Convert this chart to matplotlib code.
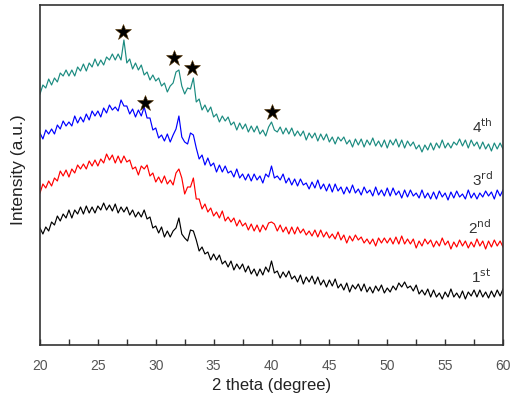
import numpy as np
import matplotlib
matplotlib.use("Agg")
import matplotlib.pyplot as plt

plt.rcParams["font.family"] = ["Liberation Sans", "DejaVu Sans"]

# 2 theta grid, 0.25 degree steps (20 .. 60)
two_theta = np.arange(161) * 0.25 + 20

# intensities (a.u.), 4 values per degree
first = [117, 111, 118, 114, 123, 120, 129, 124, 131, 127, 135, 127,
         135, 131, 138, 131, 139, 132, 138, 132, 139, 135, 142, 135,
         140, 134, 141, 132, 138, 133, 138, 130, 135, 128, 133, 128,
         135, 126, 128, 117, 119, 112, 118, 108, 114, 108, 114, 117,
         127, 111, 107, 104, 115, 114, 105, 94, 98, 91, 93, 85,
         91, 85, 90, 81, 84, 78, 84, 75, 81, 76, 81, 73,
         79, 71, 76, 69, 76, 70, 78, 73, 84, 72, 74, 67,
         73, 68, 74, 66, 69, 63, 70, 61, 68, 63, 69, 61,
         68, 60, 65, 58, 65, 59, 66, 57, 61, 55, 62, 53,
         60, 56, 61, 54, 61, 53, 58, 52, 59, 54, 60, 52,
         57, 53, 59, 55, 62, 58, 63, 57, 59, 54, 60, 51,
         55, 50, 56, 48, 55, 48, 52, 46, 53, 48, 56, 48,
         52, 47, 54, 46, 53, 49, 55, 48, 55, 48, 53, 47,
         54, 48, 55, 49, 56]

second = [152, 161, 157, 164, 159, 167, 164, 174, 169, 175, 168, 176,
          172, 180, 176, 181, 176, 184, 179, 185, 179, 186, 182, 191,
          185, 190, 182, 189, 182, 189, 183, 185, 176, 178, 170, 179,
          176, 180, 169, 172, 163, 168, 162, 169, 161, 165, 160, 172,
          176, 167, 151, 158, 158, 167, 146, 146, 136, 141, 133, 137,
          129, 133, 127, 134, 124, 128, 123, 127, 119, 125, 119, 122,
          115, 121, 114, 120, 113, 120, 115, 122, 123, 121, 114, 120,
          113, 118, 111, 118, 111, 118, 112, 116, 110, 114, 109, 115,
          108, 115, 108, 113, 107, 111, 106, 113, 105, 110, 102, 109,
          104, 110, 105, 108, 102, 106, 101, 106, 99, 107, 102, 107,
          102, 107, 101, 108, 101, 109, 101, 106, 101, 106, 97, 104,
          99, 106, 101, 105, 98, 104, 99, 107, 100, 104, 96, 103,
          98, 105, 99, 104, 97, 103, 98, 106, 99, 104, 96, 104,
          98, 105, 99, 104, 98]

third = [212, 206, 215, 211, 216, 211, 220, 216, 224, 219, 223, 219,
         229, 222, 228, 223, 231, 225, 234, 229, 234, 228, 237, 232,
         240, 235, 238, 234, 245, 239, 239, 231, 236, 228, 235, 229,
         238, 227, 227, 215, 217, 207, 210, 204, 211, 203, 210, 216,
         229, 208, 203, 201, 212, 210, 197, 186, 190, 180, 187, 179,
         182, 173, 180, 173, 179, 172, 174, 168, 176, 167, 171, 165,
         171, 164, 171, 165, 169, 162, 171, 168, 179, 167, 169, 165,
         171, 162, 167, 160, 166, 159, 166, 160, 162, 156, 163, 157,
         165, 156, 161, 154, 161, 153, 161, 154, 158, 151, 158, 152,
         160, 152, 156, 150, 158, 152, 155, 149, 158, 150, 155, 149,
         157, 149, 157, 150, 154, 147, 155, 148, 155, 149, 152, 147,
         155, 147, 152, 146, 153, 146, 154, 148, 152, 145, 153, 147,
         154, 148, 151, 146, 155, 147, 152, 146, 152, 148, 154, 149,
         153, 146, 155, 149, 155]

fourth = [251, 260, 257, 266, 260, 267, 263, 272, 269, 275, 269, 275,
          269, 278, 274, 281, 274, 282, 278, 286, 279, 285, 280, 288,
          285, 291, 285, 291, 285, 305, 282, 286, 276, 282, 275, 280,
          270, 273, 265, 270, 264, 267, 259, 262, 253, 259, 262, 273,
          275, 259, 251, 257, 256, 267, 243, 246, 235, 240, 233, 238,
          228, 231, 223, 229, 224, 228, 220, 223, 215, 222, 216, 221,
          213, 219, 213, 219, 211, 215, 209, 218, 223, 215, 213, 218,
          211, 217, 211, 217, 209, 214, 209, 214, 205, 212, 207, 212,
          204, 211, 205, 211, 203, 208, 201, 208, 204, 208, 201, 205,
          198, 206, 200, 206, 198, 205, 200, 207, 199, 204, 198, 205,
          197, 205, 200, 206, 198, 205, 197, 204, 199, 203, 196, 200,
          193, 200, 195, 202, 195, 202, 197, 205, 197, 202, 197, 203,
          200, 206, 199, 205, 197, 205, 199, 203, 196, 203, 196, 201,
          194, 202, 196, 202, 196]

series = [first, second, third, fourth]
colors = ["black", "#ff0000", "#0000ff", "#1b8b80"]
labels = [r"1$^{\mathrm{st}}$", r"2$^{\mathrm{nd}}$", r"3$^{\mathrm{rd}}$", r"4$^{\mathrm{th}}$"]
label_x = [57.2, 57.0, 57.3, 57.3]
label_y = [68, 117, 165, 218]

# peak markers
star_x = [27.2, 31.6, 33.15, 29.05, 40.0]
star_y = [313, 287, 277, 242, 233]

fig = plt.figure(figsize=(5.15, 4.03), dpi=100)
ax = fig.add_axes([40 / 515, 1 - 345 / 403, 463 / 515, 340 / 403])

for vals, c in zip(series, colors):
    ax.plot(two_theta, vals, color=c, lw=0.85)

for lab, lx, ly in zip(labels, label_x, label_y):
    ax.text(lx, ly, lab, fontsize=11, color="#333333", va="center")

ax.plot(star_x, star_y, linestyle="none", marker="*", ms=12,
        color="black", mec="#553300", mew=0.4)

ax.set_xlim(20, 60)
ax.set_ylim(0, 340)
ax.set_xticks(np.arange(20, 61, 5))
ax.set_xticks(np.arange(22.5, 60, 5), minor=True)
ax.set_yticks([])
ax.tick_params(axis="x", which="both", direction="in", length=4,
               width=1, color="#333333", labelsize=10, labelcolor="#555555",
               pad=10)
for s in ax.spines.values():
    s.set_color("#333333")
    s.set_linewidth(1.2)

ax.set_xlabel("2 theta (degree)", fontsize=12, color="#222222", labelpad=4)
ax.set_ylabel("Intensity (a.u.)", fontsize=12.5, color="#222222")
ax.yaxis.set_label_coords(-0.03, 0.515)

fig.savefig("out.png", dpi=100)
